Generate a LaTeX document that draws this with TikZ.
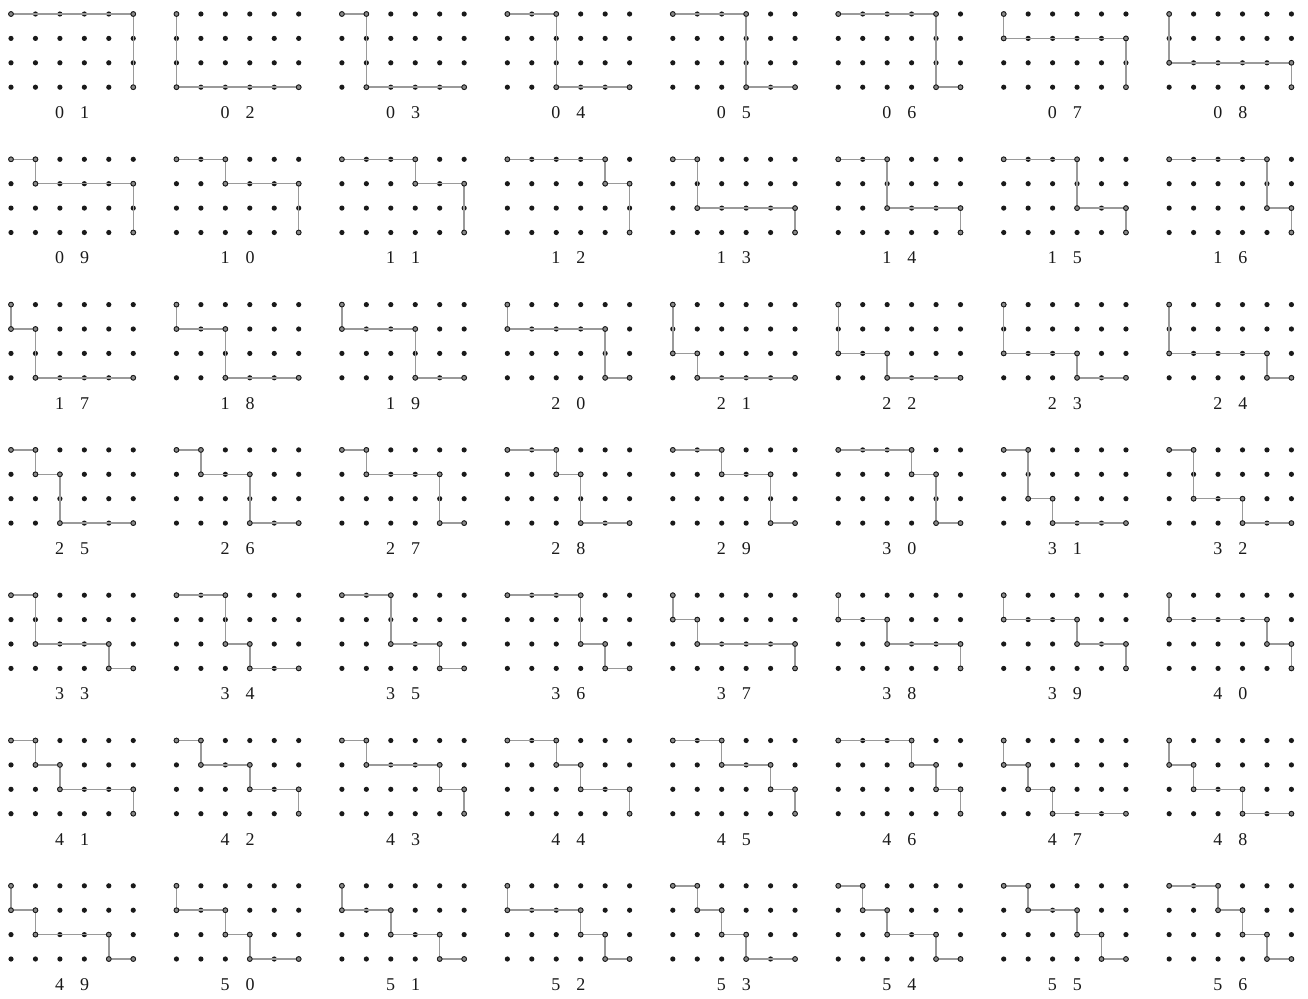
\documentclass[tikz,border=0pt]{standalone}
\usepackage{fontspec}
\setmainfont{Liberation Serif}
\definecolor{dotc}{HTML}{1A1A1A}
\definecolor{linec}{HTML}{9A9A9A}
\definecolor{ringfill}{HTML}{8A8A8A}
\tikzset{
  gridline/.style={draw=linec, line width=1.5pt, line join=miter},
  griddot/.style={fill=dotc},
  ringmark/.style={mark=*, mark size=2.4pt, mark options={draw=dotc, fill=ringfill, line width=0.9pt, solid}},
  digit/.style={font=\fontsize{18}{20}\selectfont, text=dotc, inner sep=0pt, anchor=base},
}
\newcommand\panel[5]{%
  \begin{scope}[shift={(11+165.45*#1,14+145.3*#2)},x=24.45pt,y=-24.4pt]
    \foreach \i in {0,...,5}{\foreach \j in {0,...,3}{\fill[griddot] (\i,\j) circle (2.6pt);}}
    \draw[gridline] plot[ringmark] coordinates {#5};
    \node[digit] (d#3#4a) at (2.5,3) [xshift=-12.5pt, yshift=-31.3pt] {#3};
    \node[digit] (d#3#4b) at (2.5,3) [xshift=12.5pt, yshift=-31.3pt] {#4};
  \end{scope}}
\begin{document}
\begin{tikzpicture}[x=1pt,y=-1pt]
\fill[white] (0,0) rectangle (1308,998);
\useasboundingbox (0,0) rectangle (1308,998);
% row 0
\panel{0}{0}{0}{1}{(0,0) (5,0) (5,3)}
\panel{1}{0}{0}{2}{(0,0) (0,3) (5,3)}
\panel{2}{0}{0}{3}{(0,0) (1,0) (1,3) (5,3)}
\panel{3}{0}{0}{4}{(0,0) (2,0) (2,3) (5,3)}
\panel{4}{0}{0}{5}{(0,0) (3,0) (3,3) (5,3)}
\panel{5}{0}{0}{6}{(0,0) (4,0) (4,3) (5,3)}
\panel{6}{0}{0}{7}{(0,0) (0,1) (5,1) (5,3)}
\panel{7}{0}{0}{8}{(0,0) (0,2) (5,2) (5,3)}
% row 1
\panel{0}{1}{0}{9}{(0,0) (1,0) (1,1) (5,1) (5,3)}
\panel{1}{1}{1}{0}{(0,0) (2,0) (2,1) (5,1) (5,3)}
\panel{2}{1}{1}{1}{(0,0) (3,0) (3,1) (5,1) (5,3)}
\panel{3}{1}{1}{2}{(0,0) (4,0) (4,1) (5,1) (5,3)}
\panel{4}{1}{1}{3}{(0,0) (1,0) (1,2) (5,2) (5,3)}
\panel{5}{1}{1}{4}{(0,0) (2,0) (2,2) (5,2) (5,3)}
\panel{6}{1}{1}{5}{(0,0) (3,0) (3,2) (5,2) (5,3)}
\panel{7}{1}{1}{6}{(0,0) (4,0) (4,2) (5,2) (5,3)}
% row 2
\panel{0}{2}{1}{7}{(0,0) (0,1) (1,1) (1,3) (5,3)}
\panel{1}{2}{1}{8}{(0,0) (0,1) (2,1) (2,3) (5,3)}
\panel{2}{2}{1}{9}{(0,0) (0,1) (3,1) (3,3) (5,3)}
\panel{3}{2}{2}{0}{(0,0) (0,1) (4,1) (4,3) (5,3)}
\panel{4}{2}{2}{1}{(0,0) (0,2) (1,2) (1,3) (5,3)}
\panel{5}{2}{2}{2}{(0,0) (0,2) (2,2) (2,3) (5,3)}
\panel{6}{2}{2}{3}{(0,0) (0,2) (3,2) (3,3) (5,3)}
\panel{7}{2}{2}{4}{(0,0) (0,2) (4,2) (4,3) (5,3)}
% row 3
\panel{0}{3}{2}{5}{(0,0) (1,0) (1,1) (2,1) (2,3) (5,3)}
\panel{1}{3}{2}{6}{(0,0) (1,0) (1,1) (3,1) (3,3) (5,3)}
\panel{2}{3}{2}{7}{(0,0) (1,0) (1,1) (4,1) (4,3) (5,3)}
\panel{3}{3}{2}{8}{(0,0) (2,0) (2,1) (3,1) (3,3) (5,3)}
\panel{4}{3}{2}{9}{(0,0) (2,0) (2,1) (4,1) (4,3) (5,3)}
\panel{5}{3}{3}{0}{(0,0) (3,0) (3,1) (4,1) (4,3) (5,3)}
\panel{6}{3}{3}{1}{(0,0) (1,0) (1,2) (2,2) (2,3) (5,3)}
\panel{7}{3}{3}{2}{(0,0) (1,0) (1,2) (3,2) (3,3) (5,3)}
% row 4
\panel{0}{4}{3}{3}{(0,0) (1,0) (1,2) (4,2) (4,3) (5,3)}
\panel{1}{4}{3}{4}{(0,0) (2,0) (2,2) (3,2) (3,3) (5,3)}
\panel{2}{4}{3}{5}{(0,0) (2,0) (2,2) (4,2) (4,3) (5,3)}
\panel{3}{4}{3}{6}{(0,0) (3,0) (3,2) (4,2) (4,3) (5,3)}
\panel{4}{4}{3}{7}{(0,0) (0,1) (1,1) (1,2) (5,2) (5,3)}
\panel{5}{4}{3}{8}{(0,0) (0,1) (2,1) (2,2) (5,2) (5,3)}
\panel{6}{4}{3}{9}{(0,0) (0,1) (3,1) (3,2) (5,2) (5,3)}
\panel{7}{4}{4}{0}{(0,0) (0,1) (4,1) (4,2) (5,2) (5,3)}
% row 5
\panel{0}{5}{4}{1}{(0,0) (1,0) (1,1) (2,1) (2,2) (5,2) (5,3)}
\panel{1}{5}{4}{2}{(0,0) (1,0) (1,1) (3,1) (3,2) (5,2) (5,3)}
\panel{2}{5}{4}{3}{(0,0) (1,0) (1,1) (4,1) (4,2) (5,2) (5,3)}
\panel{3}{5}{4}{4}{(0,0) (2,0) (2,1) (3,1) (3,2) (5,2) (5,3)}
\panel{4}{5}{4}{5}{(0,0) (2,0) (2,1) (4,1) (4,2) (5,2) (5,3)}
\panel{5}{5}{4}{6}{(0,0) (3,0) (3,1) (4,1) (4,2) (5,2) (5,3)}
\panel{6}{5}{4}{7}{(0,0) (0,1) (1,1) (1,2) (2,2) (2,3) (5,3)}
\panel{7}{5}{4}{8}{(0,0) (0,1) (1,1) (1,2) (3,2) (3,3) (5,3)}
% row 6
\panel{0}{6}{4}{9}{(0,0) (0,1) (1,1) (1,2) (4,2) (4,3) (5,3)}
\panel{1}{6}{5}{0}{(0,0) (0,1) (2,1) (2,2) (3,2) (3,3) (5,3)}
\panel{2}{6}{5}{1}{(0,0) (0,1) (2,1) (2,2) (4,2) (4,3) (5,3)}
\panel{3}{6}{5}{2}{(0,0) (0,1) (3,1) (3,2) (4,2) (4,3) (5,3)}
\panel{4}{6}{5}{3}{(0,0) (1,0) (1,1) (2,1) (2,2) (3,2) (3,3) (5,3)}
\panel{5}{6}{5}{4}{(0,0) (1,0) (1,1) (2,1) (2,2) (4,2) (4,3) (5,3)}
\panel{6}{6}{5}{5}{(0,0) (1,0) (1,1) (3,1) (3,2) (4,2) (4,3) (5,3)}
\panel{7}{6}{5}{6}{(0,0) (2,0) (2,1) (3,1) (3,2) (4,2) (4,3) (5,3)}
\end{tikzpicture}
\end{document}
